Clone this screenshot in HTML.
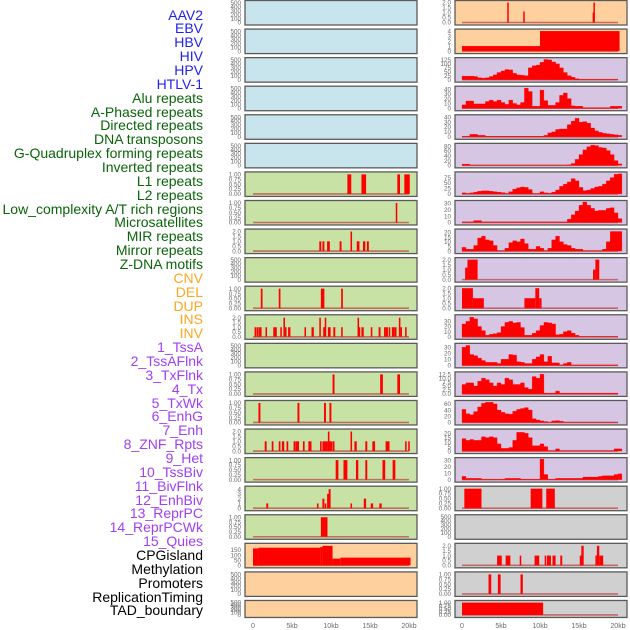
<!DOCTYPE html>
<html><head><meta charset="utf-8">
<style>
html,body{margin:0;padding:0;background:#fff;}
#wrap{position:relative;width:630px;height:630px;overflow:hidden;font-family:"Liberation Sans",sans-serif;}
.lab{position:absolute;right:427px;font-size:14px;line-height:14px;white-space:nowrap;}
svg{position:absolute;left:0;top:0;}
</style></head>
<body>
<div id="wrap">
<div id="labels"></div>
<svg id="chart" width="630" height="630"></svg>
</div>
<script>
const trackNames=["AAV2","EBV","HBV","HIV","HPV","HTLV-1","Alu repeats","A-Phased repeats","Directed repeats","DNA transposons","G-Quadruplex forming repeats","Inverted repeats","L1 repeats","L2 repeats","Low_complexity A/T rich regions","Microsatellites","MIR repeats","Mirror repeats","Z-DNA motifs","CNV","DEL","DUP","INS","INV","1_TssA","2_TssAFlnk","3_TxFlnk","4_Tx","5_TxWk","6_EnhG","7_Enh","8_ZNF_Rpts","9_Het","10_TssBiv","11_BivFlnk","12_EnhBiv","13_ReprPC","14_ReprPCWk","15_Quies","CPGisland","Methylation","Promoters","ReplicationTiming","TAD_boundary"];
const trackGroups=[6,13,5,15,5];
const groupColors=["#2222ee","#0a640a","#ffa520","#a040f0","#000000"];

const xTickKb=[0,5,10,15,20];
const xTickLabels=["0","5kb","10kb","15kb","20kb"];

const emptyTicks=[0,100,200,300,400,500];
const t2=[0,0.5,1,1.5,2], t2L=["0.0","0.5","1.0","1.5","2.0"];
const t1=[0,0.25,0.5,0.75,1], t1L=["0.00","0.25","0.50","0.75","1.00"];

// ---- right column data ----
const r1Segs=[[5.8,0.15,2],[7.85,0.15,1.1],[16.75,0.12,1],[16.85,0.15,2]];
const r2Segs=[[0,10,1],[10,10.2,4]];
const r3Values=[22,22,22,20,12,10,12,20,30,45,55,64,62,40,30,28,25,75,88,92,110,128,125,112,100,75,45,25,15,6,2,2,2,2,2,2,2,2,2,2];
const r4Values=[7,15,15,9,9,9,14,17,14,17,12,8,17,10,7,12,42,35,4,4,38,16,6,6,12,27,32,20,5,4,4,1,1,1,1,1,1,1,4,4,4];
const r5Values=[1,1,5,5,3,3,1,1,1,1,1,1,1,1,1,1,1,1,1,1,1,3,8,10,15,16,16,25,32,38,30,31,28,18,12,9,7,6,5,4,3];
const r6Values=[5,5,0,0,0,0,0,0,0,0,0,0,0,0,0,0,0,0,0,0,0,0,0,0,0,0,0,2,8,25,45,65,78,85,83,75,73,62,45,20,6];
const r7Values=[5,2,5,8,12,14,14,12,10,8,6,2,10,22,28,32,30,20,2,2,10,5,3,8,18,35,45,55,70,60,30,15,18,25,32,35,45,60,75,90,92];
const r8Values=[1,1,1,3,3,1,1,1,1,1,1,1,1,1,1,1,1,1,1,1,1,1,1,1,1,1,1,5,12,18,27,32,27,22,18,19,19,22,23,15,6];
const r9Values=[4,2,2,6,14,16,12,11,6,0.5,0.5,3,9,11,10,13,8,2,2,5,3,0.5,3,12,16,10,7,6,3,2,2,0.5,0.5,0.5,0.5,0.5,2,10,21,21,21];
const r10Segs=[[0.4,0.3,1.2],[0.7,1.3,2],[16.8,0.3,1],[17.1,0.5,2]];
const r11Segs=[[0,1.4,2],[1.4,1.4,1],[8,1.4,1],[9.4,0.5,2],[9.9,0.3,1]];
const r12Values=[25,30,38,35,20,12,3,5,6,8,20,28,30,27,28,18,3,3,7,12,22,28,27,25,4,5,10,12,7,3,0.5,0.5,0.5,0.5,0.5,0.5,0.5,0.5,0.5,0.5];
const r13Values=[30,33,18,16,12,8,5,5,5,3,10,10,18,17,6,5,3,3,10,14,18,6,15,4,4,0.5,3,5,0.5,0.5,0.5,0.5,0.5,0.5,0.5,0.5,0.5,0.5,0.5,0.5];
const r14Values=[6,7,7,5,8,10,9,7,5,7,6,10,9,6,6,7,4,3,11,10,12.5,0.5,0.5,0.5,1.8,0.5,0.5,0.5,0.5,0.5,0.5,0.5,0.5,0.5,0.5,0.5,0.5,0.5,0.5,0.5];
const r15Values=[42,28,25,35,50,62,65,65,60,40,33,28,27,36,42,45,48,40,12,8,5,3,0.5,5,6,4,0.5,0.5,0.5,0.5,0.5,0.5,0.5,0.5,0.5,0.5,0.5,0.5,0.5,0.5];
const r16Values=[14,12,13,12,12,16,15,16,15,8,3,3,4,12,21,21,20,15,6,6,8,5,0.5,0.5,2.5,0.5,0.5,0.5,0.5,0.5,0.5,0.5,0.5,0.5,0.5,0.5,0.5,0.5,0.5,2.5,2.5];
const r17Values=[5,2,2,2,2,0.5,0.5,0.5,0.5,0.5,0.5,2,2,2,2,0.5,0.5,0.5,0.5,0.5,32,8,0.5,0.5,2,2,2,2,2,2,2,4,4,4,4,5,6,6,6,8,9];
const r18Segs=[[0.3,2.2,1],[8.8,1.5,1],[10.8,1.1,1]];
const r20Segs=[[4.5,0.6,1],[5.6,0.6,1],[7.4,0.2,1],[9.3,0.6,1],[10.6,0.2,1],[10.9,0.5,1],[11.6,0.4,1],[12.6,0.25,1],[15.1,0.3,1],[15.3,0.3,2],[17.3,0.3,2],[17.6,0.5,1],[17.1,0.2,1]];
const r21Segs=[[3.4,0.35,1],[4.6,0.35,1],[7.5,0.3,1]];
const r22Segs=[[0,10.4,1]];

// ---- left column data ----
const l7Segs=[[12.1,0.5,1],[13.9,0.6,1],[18.5,0.35,1],[19.4,0.7,1]];
const l8Segs=[[18.3,0.2,1]];
const l9Segs=[[8.5,0.25,1],[8.9,0.25,1],[9.5,0.35,1],[11.1,0.25,1],[12.5,0.2,2],[13.3,0.35,1],[14.1,0.3,1],[14.6,0.25,1]];
const l11Segs=[[1.0,0.22,1],[3.3,0.22,1],[8.7,0.45,1],[11.3,0.22,1]];
const l12Segs=[[0.2,0.2,1],[0.45,0.2,1],[0.7,0.2,1],[0.9,0.2,1],[1.6,0.2,1],[2.6,0.45,1],[3.5,0.2,1],[3.9,0.2,2],[4.1,0.2,1],[4.5,0.3,1],[6.6,0.2,1],[7.5,0.3,1],[8.5,0.2,2],[9.0,0.3,1],[9.2,0.15,2],[9.6,0.35,1],[10.3,0.25,1],[11.3,0.2,1],[13.4,0.2,2],[13.5,0.25,1],[13.9,0.3,1],[15.1,0.2,1],[16.1,0.25,1],[16.8,0.2,1],[17.0,0.3,1],[17.4,0.2,1],[17.8,0.3,1],[18.1,0.3,1],[18.7,0.2,2],[18.9,0.2,1],[19.5,0.2,1]];
const l14Segs=[[10.2,0.25,1],[16.3,0.35,1],[18.5,0.35,1]];
const l15Segs=[[0.7,0.25,1],[5.7,0.25,1],[9.1,0.25,1],[9.8,0.25,1]];
const l16Segs=[[1.5,0.25,1],[2.4,0.22,1],[3.3,0.22,1],[3.7,0.3,1],[4.3,0.22,1],[5.2,0.22,1],[5.45,0.25,1],[5.7,0.2,1],[6.4,0.22,1],[7.1,0.4,1],[8.6,0.2,1],[8.9,0.4,1],[9.3,0.3,1],[9.6,0.2,2],[9.8,0.35,1],[10.2,0.25,1],[12.5,0.2,2],[13.0,0.3,1],[14.4,0.25,1],[15.3,0.35,1],[17.0,0.5,1],[19.5,0.2,1],[19.9,0.2,1]];
const l17Segs=[[10.6,0.35,1],[11.6,0.5,1],[13.2,0.3,1],[14.4,0.25,1],[16.6,0.35,1],[17.9,0.35,1]];
const l18Segs=[[1.7,0.25,1],[8.2,0.2,1],[8.9,0.25,2],[9.2,0.2,1],[9.5,0.25,3],[9.7,0.25,4],[12.5,0.2,1],[14.2,0.3,2],[15.1,0.3,1],[16.2,0.3,1]];
const l19Segs=[[8.7,0.85,1]];
const l20Segs=[[0,0.7,165],[0.7,7.9,172],[8.6,0.3,178],[8.9,1.3,190],[10.2,1,65],[11.2,9,75]];

const BLUE="#c8e4ec",GREEN="#c8e2a6",ORANGE="#fed09e",LAV="#d6c6e4",GRAY="#d0d0d0";
const panels=[
 // [col,row,bg,ticks,labels,ymax,bins,segs]
 ["L",0,BLUE],["L",1,BLUE],["L",2,BLUE],["L",3,BLUE],["L",4,BLUE],["L",5,BLUE],
 ["L",6,GREEN,t1,t1L,1.05,null,l7Segs],["L",7,GREEN,t1,t1L,1.05,null,l8Segs],
 ["L",8,GREEN,t2,t2L,2.1,null,l9Segs],["L",9,GREEN],
 ["L",10,GREEN,t1,t1L,1.05,null,l11Segs],["L",11,GREEN,t2,t2L,2.15,null,l12Segs],
 ["L",12,GREEN],["L",13,GREEN,t1,t1L,1.05,null,l14Segs],["L",14,GREEN,t1,t1L,1.05,null,l15Segs],
 ["L",15,GREEN,t2,t2L,2.1,null,l16Segs],["L",16,GREEN,t1,t1L,1.05,null,l17Segs],
 ["L",17,GREEN,[0,1,2,3,4],["0","1","2","3","4"],4.3,null,l18Segs],["L",18,GREEN,t1,t1L,1.05,null,l19Segs],
 ["L",19,ORANGE,[0,50,100,150],["0","50","100","150"],200,null,l20Segs],["L",20,ORANGE],["L",21,ORANGE],
 ["R",0,ORANGE,t2,t2L,2.05,null,r1Segs],["R",1,ORANGE,[0,1,2,3,4],["0","1","2","3","4"],4.1,null,r2Segs],
 ["R",2,LAV,[0,25,50,75,100,125],["0","25","50","75","100","125"],130,r3Values],
 ["R",3,LAV,[0,10,20,30,40],["0","10","20","30","40"],43,r4Values],
 ["R",4,LAV,[0,10,20,30,40],["0","10","20","30","40"],42,r5Values],
 ["R",5,LAV,[0,20,40,60,80],["0","20","40","60","80"],86,r6Values],
 ["R",6,LAV,[0,25,50,75],["0","25","50","75"],94,r7Values],
 ["R",7,LAV,[0,10,20,30],["0","10","20","30"],32,r8Values],
 ["R",8,LAV,[0,5,10,15,20],["0","5","10","15","20"],22,r9Values],
 ["R",9,LAV,t2,t2L,2.05,null,r10Segs],["R",10,LAV,t2,t2L,2.05,null,r11Segs],
 ["R",11,LAV,[0,10,20,30],["0","10","20","30"],40,r12Values],
 ["R",12,LAV,[0,10,20,30],["0","10","20","30"],34,r13Values],
 ["R",13,LAV,[0,2.5,5,7.5,10,12.5],["0.0","2.5","5.0","7.5","10.0","12.5"],13,r14Values],
 ["R",14,LAV,[0,20,40,60],["0","20","40","60"],66,r15Values],
 ["R",15,LAV,[0,5,10,15,20],["0","5","10","15","20"],23,r16Values],
 ["R",16,LAV,[0,10,20,30],["0","10","20","30"],32,r17Values],
 ["R",17,GRAY,t1,t1L,1.05,null,r18Segs],["R",18,GRAY],
 ["R",19,GRAY,t2,t2L,2.1,null,r20Segs],["R",20,GRAY,t1,t1L,1.05,null,r21Segs],["R",21,GRAY,t1,t1L,1.05,null,r22Segs]
];

const NS="http://www.w3.org/2000/svg";
const svg=document.getElementById('chart');
function mk(tag,attrs,parent){const e=document.createElementNS(NS,tag);for(const k in attrs)e.setAttribute(k,attrs[k]);(parent||svg).appendChild(e);return e;}

// labels
const labDiv=document.getElementById('labels');
let idx=0;
trackGroups.forEach((n,g)=>{for(let j=0;j<n;j++){const d=document.createElement('div');d.className='lab';
 
 
 d.style.color=groupColors[g];d.style.top=(15+13.86*idx-7.5)+'px';d.textContent=trackNames[idx];labDiv.appendChild(d);idx++;}});

const PITCH=28.57;
function colGeom(c){return c==="L"?{fl:245,fr:417,x0:253}:{fl:455,fr:627,x0:462};}
function xScale(c,kb){return colGeom(c).x0+7.8*kb;}

panels.forEach(p=>{
 const [c,row,bg]=p;const g=colGeom(c);
 const top=row*PITCH+0.5;const h=row===21?17:24.5;
 const grp=mk('g',{});
 
 
 mk('rect',{x:g.fl,y:top,width:g.fr-g.fl,height:h,fill:bg},grp);
 const empty=!p[3];
 const ticks=empty?emptyTicks:p[3];
 const tl=empty?emptyTicks.map(String):p[4];
 const ymax=empty?520:p[5];
 const yb=top+h-2.5,yt=top+1.5;
 const yS=v=>yb-Math.min(v,ymax*1.02)/ymax*(yb-yt);
 ticks.forEach((t,i)=>{const tx=mk('text',{x:g.fl-4,y:yS(t)+2.2,'text-anchor':'end','font-size':6.3,fill:'#6a6a6a','font-family':'Liberation Sans, sans-serif'},grp);tx.textContent=tl[i];
  
  });
 if(!empty){
  mk('line',{x1:xScale(c,0),x2:xScale(c,20),y1:yb,y2:yb,stroke:'#c05050','stroke-width':1.6,opacity:0.8},grp);
  if(p[6]){const vals=p[6];let d='';vals.forEach((v,i)=>{const x1=xScale(c,i*0.5),x2=xScale(c,i*0.5+0.5);d+=`M${x1},${yb}V${yS(v)}H${x2}V${yb}Z`;});
   const path=mk('path',{d:d,fill:'#ff0000',stroke:'#ff0000','stroke-width':0.3},grp);
   
   }
  if(p[7]){p[7].forEach(s=>{const x1=xScale(c,s[0]),x2=xScale(c,s[0]+s[1]);
   const r=mk('rect',{x:x1,y:yS(s[2]),width:Math.max(1.5,x2-x1),height:yb-yS(s[2]),fill:'#ff0000'},grp);
   
   });}
 }
 mk('rect',{x:g.fl,y:top,width:g.fr-g.fl,height:h,fill:'none',stroke:'#5a5a5a','stroke-width':1.3},grp);
});

["L","R"].forEach(c=>{xTickKb.forEach((k,i)=>{const t=mk('text',{x:xScale(c,k),y:628,'text-anchor':'middle','font-size':7,fill:'#6a6a6a','font-family':'Liberation Sans, sans-serif'});t.textContent=xTickLabels[i];
 
 });});
</script>
</body></html>
